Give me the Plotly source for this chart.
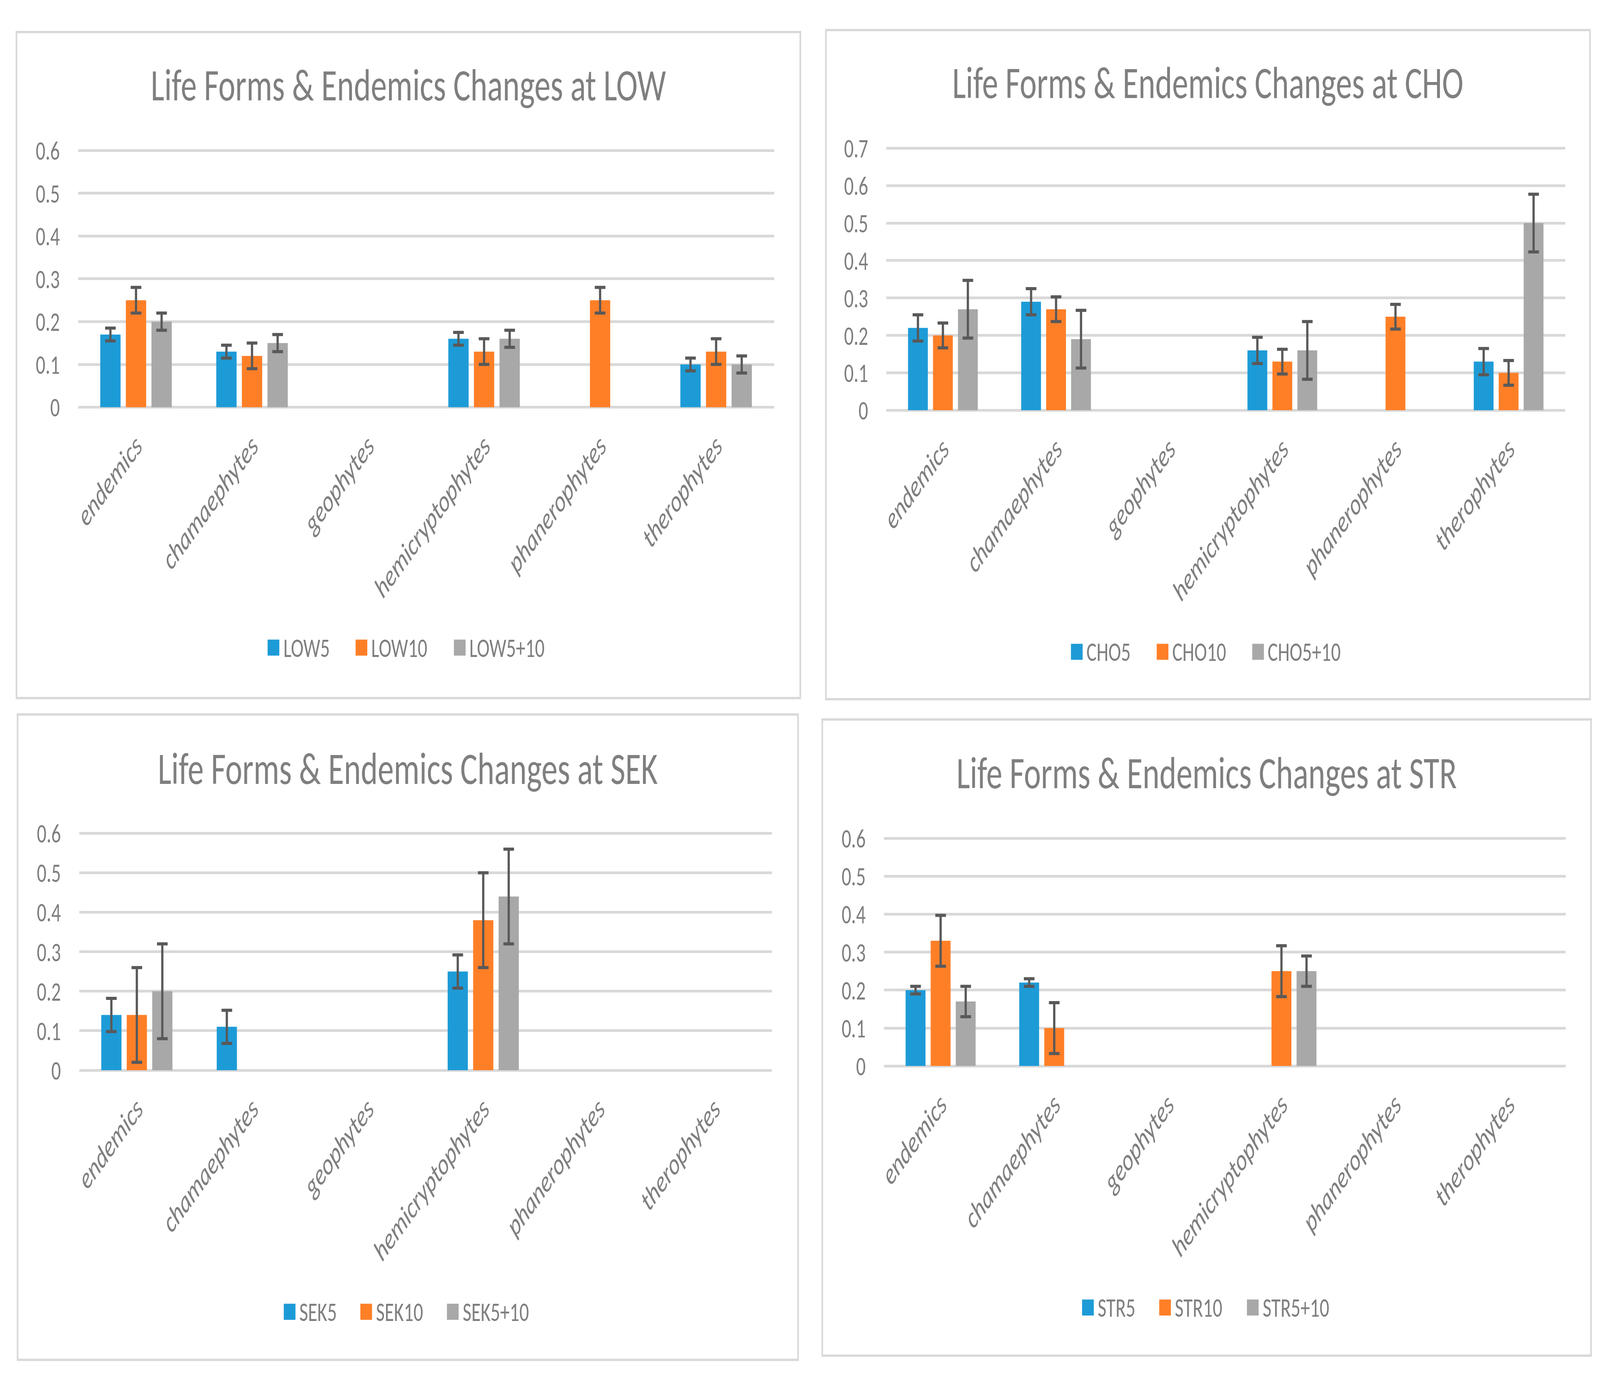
import plotly.graph_objects as go

W, H = 5720, 3551

categories = ["endemics", "chamaephytes", "geophytes", "hemicryptophytes", "phanerophytes", "therophytes"]

# LOW
LOW5 = [0.17, 0.13, None, 0.16, None, 0.10]
LOW5_err = [0.015, 0.015, None, 0.015, None, 0.015]
LOW10 = [0.25, 0.12, None, 0.13, 0.25, 0.13]
LOW10_err = [0.03, 0.03, None, 0.03, 0.03, 0.03]
LOW5_10 = [0.20, 0.15, None, 0.16, None, 0.10]
LOW5_10_err = [0.02, 0.02, None, 0.02, None, 0.02]

# CHO
CHO5 = [0.22, 0.29, None, 0.16, None, 0.13]
CHO5_err = [0.035, 0.035, None, 0.035, None, 0.035]
CHO10 = [0.20, 0.27, None, 0.13, 0.25, 0.10]
CHO10_err = [0.033, 0.033, None, 0.033, 0.033, 0.033]
CHO5_10 = [0.27, 0.19, None, 0.16, None, 0.50]
CHO5_10_err = [0.077, 0.077, None, 0.077, None, 0.077]

# SEK
SEK5 = [0.14, 0.11, None, 0.25, None, None]
SEK5_err = [0.042, 0.042, None, 0.042, None, None]
SEK10 = [0.14, None, None, 0.38, None, None]
SEK10_err = [0.12, None, None, 0.12, None, None]
SEK5_10 = [0.20, None, None, 0.44, None, None]
SEK5_10_err = [0.12, None, None, 0.12, None, None]

# STR
STR5 = [0.20, 0.22, None, None, None, None]
STR5_err = [0.01, 0.01, None, None, None, None]
STR10 = [0.33, 0.10, None, 0.25, None, None]
STR10_err = [0.067, 0.067, None, 0.067, None, None]
STR5_10 = [0.17, None, None, 0.25, None, None]
STR5_10_err = [0.04, None, None, 0.04, None, None]

y_max = {"LOW": 0.6, "CHO": 0.7, "SEK": 0.6, "STR": 0.6}

COLORS = ["#1D9BD7", "#FF7F27", "#A8A8A8"]
TEXT = "#7F7F7F"
GRID = "#D9D9D9"
ERR = "#595959"
FONT = "Carlito, Calibri, Lato, 'Open Sans', sans-serif"

panels = [
    # site, series, plot area px (x0, x1, ytop, ybottom), border px (x0, x1, y0, y1),
    # title y, legend item left x positions, legend y
    ("LOW", [("LOW5", LOW5, LOW5_err), ("LOW10", LOW10, LOW10_err), ("LOW5+10", LOW5_10, LOW5_10_err)],
     (254, 2754, 358, 1030), (33, 2848, 48, 1791), 187, (935, 1251, 1604), 1659),
    ("CHO", [("CHO5", CHO5, CHO5_err), ("CHO10", CHO10, CHO10_err), ("CHO5+10", CHO5_10, CHO5_10_err)],
     (3157, 5595, 352, 1038), (2940, 5684, 43, 1794), 181, (3820, 4128, 4471), 1670),
    ("SEK", [("SEK5", SEK5, SEK5_err), ("SEK10", SEK10, SEK10_err), ("SEK5+10", SEK5_10, SEK5_10_err)],
     (258, 2746, 2145, 2765), (37, 2840, 1834, 3523), 1976, (993, 1268, 1579), 3397),
    ("STR", [("STR5", STR5, STR5_err), ("STR10", STR10, STR10_err), ("STR5+10", STR5_10, STR5_10_err)],
     (3148, 5596, 2158, 2754), (2927, 5688, 1847, 3512), 1987, (3860, 4137, 4452), 3386),
]

SW = 42  # legend swatch size (px)


def px(x):
    return x / W


def py(y):
    return 1 - y / H


fig = go.Figure()
layout = dict(
    width=W, height=H,
    margin=dict(l=0, r=0, t=0, b=0),
    paper_bgcolor="white", plot_bgcolor="white",
    barmode="group", bargap=0.338, bargroupgap=0.207,
    font=dict(family=FONT, color=TEXT, size=70),
    showlegend=False,
)
shapes = []
annotations = []

for i, (site, series, area, border, title_y, leg_x, leg_y) in enumerate(panels):
    n = "" if i == 0 else str(i + 1)
    for j, (name, vals, errs) in enumerate(series):
        fig.add_trace(go.Bar(
            x=categories, y=vals, name=name,
            marker=dict(color=COLORS[j], line=dict(width=0)),
            error_y=dict(type="data", array=errs, visible=True, color=ERR, thickness=8, width=19),
            xaxis="x" + n, yaxis="y" + n,
        ))
        # legend entry: swatch + label
        lx = leg_x[j]
        shapes.append(dict(type="rect", xref="paper", yref="paper",
                           x0=px(lx), x1=px(lx + SW), y0=py(leg_y + SW / 2), y1=py(leg_y - SW / 2),
                           line=dict(width=0), fillcolor=COLORS[j]))
        annotations.append(dict(text=name, xref="paper", yref="paper",
                                x=px(lx + SW + 12), y=py(leg_y), xanchor="left", yanchor="middle",
                                showarrow=False, font=dict(family=FONT, size=68, color=TEXT)))
    x0, x1, yt, yb = area
    ym = y_max[site]
    ext = ym * 1.01  # small headroom so the top gridline is drawn
    top_px = yb - (yb - yt) * ext / ym
    layout["xaxis" + n] = dict(
        domain=[px(x0), px(x1)], anchor="y" + n,
        type="category", categoryorder="array", categoryarray=categories,
        showgrid=False, showline=False, zeroline=False, ticks="",
        tickangle=-45, ticklabelstandoff=38,
        tickfont=dict(family=FONT, size=76, color=TEXT, style="italic"),
    )
    layout["yaxis" + n] = dict(
        domain=[py(yb), py(top_px)], anchor="x" + n,
        range=[0, ext], dtick=0.1, tick0=0,
        showgrid=True, gridcolor=GRID, gridwidth=7,
        zeroline=True, zerolinecolor=GRID, zerolinewidth=7,
        showline=False, ticks="", ticklabelstandoff=64,
        tickfont=dict(family=FONT, size=68, color=TEXT),
    )
    bx0, bx1, by0, by1 = border
    shapes.append(dict(type="rect", xref="paper", yref="paper",
                       x0=px(bx0), x1=px(bx1), y0=py(by1), y1=py(by0),
                       line=dict(color=GRID, width=6), fillcolor="rgba(0,0,0,0)", layer="below"))
    annotations.append(dict(text="Life Forms &amp; Endemics Changes at " + site,
                            xref="paper", yref="paper", x=px((bx0 + bx1) / 2), y=py(title_y),
                            xanchor="center", yanchor="middle", showarrow=False,
                            font=dict(family=FONT, size=115, color=TEXT)))

layout["shapes"] = shapes
layout["annotations"] = annotations
fig.update_layout(**layout)

# Fit the fixed-size figure into whatever viewport the browser actually provides.
fit_script = """
(function(){
  var gd = document.getElementById('{plot_id}');
  var W = %d, H = %d;
  function fit(){
    var vw = window.innerWidth || document.documentElement.clientWidth;
    var vh = window.innerHeight || document.documentElement.clientHeight;
    if (!vw || !vh || vw < 200 || vh < 200) { return; }
    var sx = vw / W, sy = vh / H;
    var de = document.documentElement, b = document.body;
    de.style.margin = '0'; de.style.padding = '0'; de.style.overflow = 'hidden';
    b.style.margin = '0'; b.style.padding = '0'; b.style.overflow = 'hidden';
    var p = gd.parentElement;
    p.style.width = vw + 'px'; p.style.height = vh + 'px'; p.style.overflow = 'hidden';
    gd.style.position = 'fixed'; gd.style.left = '0px'; gd.style.top = '0px';
    gd.style.transformOrigin = '0 0';
    gd.style.transform = 'scale(' + sx + ',' + sy + ')';
  }
  fit();
  window.addEventListener('resize', fit);
})();
""" % (W, H)

fig.write_html("out.html", post_script=fit_script, config={"displayModeBar": False})
